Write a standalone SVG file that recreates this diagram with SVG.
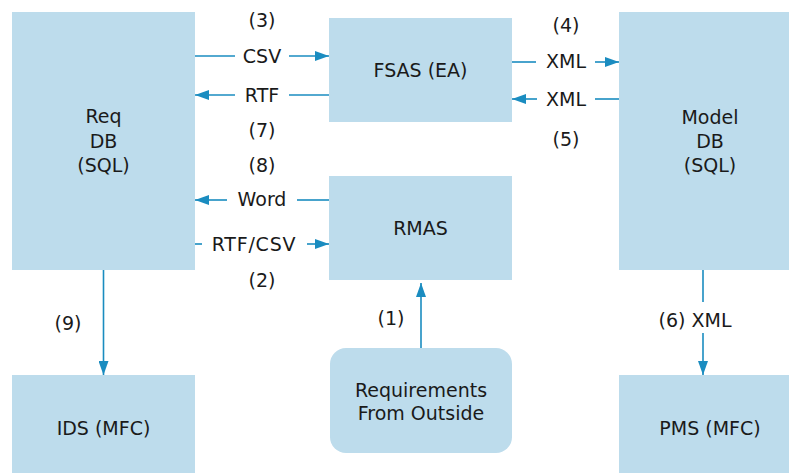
<svg xmlns="http://www.w3.org/2000/svg" width="789" height="473" viewBox="0 0 789 473">
  <style>
    .box { fill: #bddcec; }
    .lbl { font-family: "DejaVu Sans", "Liberation Sans", sans-serif; font-size: 19px; fill: #1a1a1a; text-anchor: middle; }
    .wire { stroke: #1a8cc0; stroke-width: 1.6; fill: none; }
  </style>
  <defs>
    <marker id="head" viewBox="0 0 14 10" refX="14" refY="5" markerWidth="14" markerHeight="10" markerUnits="userSpaceOnUse" orient="auto">
      <path d="M0,0 L14,5 L0,10 Z" fill="#1a8cc0"/>
    </marker>
  </defs>

  <rect width="789" height="473" fill="#ffffff"/>

  <g id="req-db">
    <rect class="box" x="12" y="12" width="183" height="258"/>
    <text class="lbl" x="103.5" y="123">Req</text>
    <text class="lbl" x="103.5" y="148">DB</text>
    <text class="lbl" x="103.5" y="172">(SQL)</text>
  </g>

  <g id="fsas">
    <rect class="box" x="329" y="18" width="183" height="104"/>
    <text class="lbl" x="420.5" y="77">FSAS (EA)</text>
  </g>

  <g id="model-db">
    <rect class="box" x="619" y="12" width="170" height="258"/>
    <text class="lbl" x="710" y="124">Model</text>
    <text class="lbl" x="710" y="148">DB</text>
    <text class="lbl" x="710" y="172">(SQL)</text>
  </g>

  <g id="rmas">
    <rect class="box" x="329" y="176" width="183" height="104"/>
    <text class="lbl" x="420.5" y="235">RMAS</text>
  </g>

  <g id="outside">
    <rect class="box" x="330" y="348" width="182" height="105" rx="16" ry="16"/>
    <text class="lbl" x="421" y="397">Requirements</text>
    <text class="lbl" x="421" y="420">From Outside</text>
  </g>

  <g id="ids">
    <rect class="box" x="12" y="375" width="183" height="98"/>
    <text class="lbl" x="103.5" y="435">IDS (MFC)</text>
  </g>

  <g id="pms">
    <rect class="box" x="619" y="375" width="170" height="98"/>
    <text class="lbl" x="710" y="435">PMS (MFC)</text>
  </g>

  <g id="connectors">
    <!-- (3) CSV: Req DB to FSAS -->
    <line class="wire" x1="195" y1="56" x2="235" y2="56"/>
    <line class="wire" x1="289" y1="56" x2="329" y2="56" marker-end="url(#head)"/>
    <text class="lbl" x="262" y="26.5">(3)</text>
    <text class="lbl" x="262" y="63">CSV</text>

    <!-- (7) RTF: FSAS to Req DB -->
    <line class="wire" x1="329" y1="95" x2="289" y2="95"/>
    <line class="wire" x1="235" y1="95" x2="195" y2="95" marker-end="url(#head)"/>
    <text class="lbl" x="262" y="102">RTF</text>
    <text class="lbl" x="262" y="137">(7)</text>

    <!-- (4) XML: FSAS to Model DB -->
    <line class="wire" x1="512" y1="62" x2="536" y2="62"/>
    <line class="wire" x1="595" y1="62" x2="619" y2="62" marker-end="url(#head)"/>
    <text class="lbl" x="566" y="32">(4)</text>
    <text class="lbl" x="566" y="68">XML</text>

    <!-- (5) XML: Model DB to FSAS -->
    <line class="wire" x1="619" y1="99" x2="595" y2="99"/>
    <line class="wire" x1="537" y1="99" x2="512" y2="99" marker-end="url(#head)"/>
    <text class="lbl" x="566" y="106">XML</text>
    <text class="lbl" x="566" y="146">(5)</text>

    <!-- (8) Word: RMAS to Req DB -->
    <line class="wire" x1="329" y1="200" x2="297" y2="200"/>
    <line class="wire" x1="227" y1="200" x2="195" y2="200" marker-end="url(#head)"/>
    <text class="lbl" x="262" y="172">(8)</text>
    <text class="lbl" x="262" y="206">Word</text>

    <!-- (2) RTF/CSV: Req DB to RMAS -->
    <line class="wire" x1="195" y1="244" x2="202" y2="244"/>
    <line class="wire" x1="307" y1="244" x2="329" y2="244" marker-end="url(#head)"/>
    <text class="lbl" x="254" y="251" letter-spacing="0.8">RTF/CSV</text>
    <text class="lbl" x="262" y="287">(2)</text>

    <!-- (9): Req DB to IDS -->
    <line class="wire" x1="103.5" y1="270" x2="103.5" y2="375" marker-end="url(#head)"/>
    <text class="lbl" x="68" y="330">(9)</text>

    <!-- (6) XML: Model DB to PMS -->
    <line class="wire" x1="703" y1="270" x2="703" y2="302"/>
    <line class="wire" x1="703" y1="333" x2="703" y2="375" marker-end="url(#head)"/>
    <text class="lbl" x="695" y="327">(6) XML</text>

    <!-- (1): outside requirements into RMAS -->
    <line class="wire" x1="421" y1="348" x2="421" y2="283" marker-end="url(#head)"/>
    <text class="lbl" x="391" y="325">(1)</text>
  </g>
</svg>
